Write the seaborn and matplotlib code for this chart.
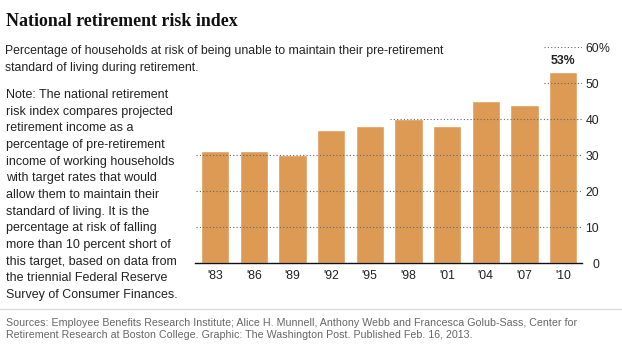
import matplotlib
matplotlib.use("Agg")
import matplotlib.pyplot as plt
import seaborn as sns
import pandas as pd

# --- DATA ---
years = ["'83", "'86", "'89", "'92", "'95", "'98", "'01", "'04", "'07", "'10"]
risk_pct = [31, 31, 30, 37, 38, 40, 38, 45, 44, 53]
y_ticks = [0, 10, 20, 30, 40, 50, 60]

title = "National retirement risk index"
subtitle = ("Percentage of households at risk of being unable to maintain their pre-retirement\n"
            "standard of living during retirement.")
note = ("Note: The national retirement\nrisk index compares projected\nretirement income as a\n"
        "percentage of pre-retirement\nincome of working households\nwith target rates that would\n"
        "allow them to maintain their\nstandard of living. It is the\npercentage at risk of falling\n"
        "more than 10 percent short of\nthis target, based on data from\nthe triennial Federal Reserve\n"
        "Survey of Consumer Finances.")
sources = ("Sources: Employee Benefits Research Institute; Alice H. Munnell, Anthony Webb and Francesca Golub-Sass, Center for\n"
           "Retirement Research at Boston College. Graphic: The Washington Post. Published Feb. 16, 2013.")

df = pd.DataFrame({"year": years, "pct": risk_pct})

BAR = "#DC9A55"
TXT = "#222222"
W, H = 622, 351

sns.set_style("white")
plt.rcParams["font.family"] = ["Liberation Sans", "DejaVu Sans"]

fig = plt.figure(figsize=(W / 100, H / 100), dpi=100)
ax = fig.add_axes([195 / W, 1 - 263 / H, (582 - 195) / W, (263 - 47) / H])

sns.barplot(data=df, x="year", y="pct", color=BAR, saturation=1, width=0.73, ax=ax)
ax.set_xlim(-0.52, len(years) - 0.51)
ax.set_ylim(0, 60)

# dotted gridlines, starting just left of first bar that reaches them
for g in y_ticks[1:]:
    idx = next((i for i, v in enumerate(risk_pct) if v >= g), len(risk_pct) - 1)
    ax.hlines(g, idx - 0.365 - 0.12, ax.get_xlim()[1], colors="#666666",
              linestyles=(0, (1, 2)), linewidth=0.8, zorder=3)

for s in ["top", "left", "right"]:
    ax.spines[s].set_visible(False)
ax.spines["bottom"].set_color("#111111")
ax.spines["bottom"].set_linewidth(1)

ax.yaxis.tick_right()
ax.set_yticks(y_ticks)
ax.set_yticklabels([str(t) for t in y_ticks], ha="right")
ax.tick_params(axis="y", length=0, pad=12.3, labelsize=8.8, labelcolor=TXT)
ax.tick_params(axis="x", length=0, pad=5, labelsize=8.8, labelcolor=TXT)
ax.annotate("%", xy=(1, 60), xycoords=("axes fraction", "data"),
            xytext=(12.0, 0), textcoords="offset points", ha="left", va="center_baseline",
            fontsize=8.8, color=TXT)
ax.set_xlabel("")
ax.set_ylabel("")

# label on last bar
ax.annotate(f"{risk_pct[-1]}%", xy=(len(risk_pct) - 1, risk_pct[-1]),
            xytext=(0, 4), textcoords="offset points", ha="center", va="bottom",
            fontsize=8.8, fontweight="bold", color=TXT)

fig.text(6 / W, 1 - 22 / H, title, fontsize=12.9, fontweight="bold",
         family=["Liberation Serif", "DejaVu Serif"], color="#111111", va="center")
fig.text(5 / W, 1 - 45 / H, subtitle, fontsize=8.85, color=TXT, va="top", linespacing=1.5)
fig.text(6 / W, 1 - 89 / H, note, fontsize=9.0, color=TXT, va="top", linespacing=1.52)

fig.add_artist(plt.Line2D([0, 1], [1 - 309 / H, 1 - 309 / H], color="#dddddd", linewidth=1))
fig.text(6 / W, 1 - 318 / H, sources, fontsize=7.65, color="#666666", va="top", linespacing=1.3)

fig.savefig("out.png", dpi=100, facecolor="white")
